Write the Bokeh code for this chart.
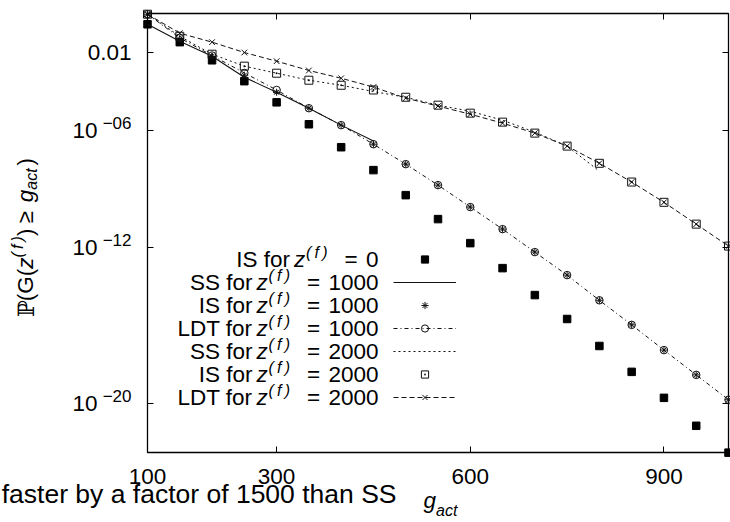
import math
from bokeh.plotting import figure
from bokeh.models import (Range1d, FixedTicker, LinearAxis, LogAxis, Label,
                          Legend, LegendItem)
from bokeh.embed import file_html
from bokeh.resources import INLINE

# ---------------- data ----------------
g_act = [100, 150, 200, 250, 300, 350, 400, 450, 500, 550,
         600, 650, 700, 750, 800, 850, 900, 950, 1000]

is_z0 = [2.8e-1, 3.4e-2, 4.0e-3, 3.4e-4, 2.8e-5, 2.1e-6, 1.4e-7, 9.4e-9, 4.9e-10, 2.9e-11,
         1.7e-12, 8.9e-14, 3.7e-15, 2.2e-16, 9.1e-18, 4.3e-19, 2.0e-20, 7.4e-22, 3.1e-23]

g_ss1000 = [100, 150, 200, 250, 300, 350, 400, 450]
ss_z1000 = [2.8e-1, 3.8e-2, 6.5e-3, 5.4e-4, 9.2e-5, 1.4e-5, 1.9e-6, 2.9e-7]

is_z1000 = [9.2e-1, 4.8e-2, 6.5e-3, 6.9e-4, 9.2e-5, 1.4e-5, 1.9e-6, 2.0e-7, 1.9e-8, 1.6e-9,
            1.2e-10, 8.9e-12, 5.9e-13, 3.9e-14, 2.0e-15, 1.1e-16, 5.6e-18, 3.0e-19, 1.6e-20]

ldt_z1000 = [9.2e-1, 5.6e-2, 7.0e-3, 9.0e-4, 1.2e-4, 1.4e-5, 1.9e-6, 2.0e-7, 1.9e-8, 1.6e-9,
             1.2e-10, 8.9e-12, 5.9e-13, 3.9e-14, 2.0e-15, 1.1e-16, 5.6e-18, 3.0e-19, 1.6e-20]

g_ss2000 = [100, 150, 200, 250, 300, 350, 400, 450, 500, 550, 600, 650, 700, 750, 800]
ss_z2000 = [9.2e-1, 6.8e-2, 8.2e-3, 2.0e-3, 8.7e-4, 3.8e-4, 2.1e-4, 1.0e-4, 5.1e-5, 2.0e-5,
            9.8e-6, 3.4e-6, 8.3e-7, 1.6e-7, 8.3e-9]

is_z2000 = [9.2e-1, 6.8e-2, 8.2e-3, 2.0e-3, 8.7e-4, 3.8e-4, 2.1e-4, 1.2e-4, 5.1e-5, 2.0e-5,
            7.8e-6, 2.7e-6, 7.4e-7, 1.6e-7, 2.1e-8, 2.3e-9, 2.1e-10, 1.6e-11, 1.2e-12]

ldt_z2000 = [9.2e-1, 9.8e-2, 3.4e-2, 1.0e-2, 3.6e-3, 1.2e-3, 4.8e-4, 1.7e-4, 4.6e-5, 1.8e-5,
             6.9e-6, 2.4e-6, 7.4e-7, 1.6e-7, 2.1e-8, 2.3e-9, 2.1e-10, 1.6e-11, 1.2e-12]

x_min, x_max = 100, 1000
y_min, y_max = 10 ** -22.5, 1.0
x_ticks = [100, 300, 600, 900]
x_tick_labels = ["100", "300", "600", "900"]
y_ticks = [1e-2, 1e-6, 1e-12, 1e-20]
y_tick_base = ["0.01", "10", "10", "10"]
y_tick_exp = ["", "\u221206", "\u221212", "\u221220"]

legend_prefix = ["IS for", "SS for", "IS for", "LDT for", "SS for", "IS for", "LDT for"]
legend_value = ["0", "1000", "1000", "1000", "2000", "2000", "2000"]

caption = "faster by a factor of 1500 than SS"

# ---------------- layout helpers (page pixels) ----------------
W, H = 730, 522
FL, FR, FT, FB = 147.0, 728.0, 13.0, 452.0     # plot box edges in page pixels
YL0, YL1 = math.log10(y_min), math.log10(y_max)
XS = (FR - FL) / (x_max - x_min)
YS = (FB - FT) / (YL1 - YL0)


def px2x(px):
    return x_min + (px - FL) / XS


def py2y(py):
    return 10 ** (YL1 - (py - FT) / YS)


AW = {' ': 278, '(': 333, ')': 333, '=': 584, '\u2212': 584, '.': 278, '\u2265': 549,
      '\u2009': 200,
      'A': 667, 'D': 722, 'G': 778, 'I': 278, 'L': 556, 'S': 667, 'T': 611,
      'a': 556, 'c': 500, 'f': 278, 'g': 556, 'o': 556, 'r': 333, 't': 278, 'z': 500,
      '\u2119': 700}


def tw(s, size):
    return sum(AW.get(c, 556) for c in s) * size / 1000.0


FONT = "Liberation Sans"
F = 22.5       # main text size
S = 16         # super/subscript size
F_CAP = 26.5   # caption size

# the frame covers the whole canvas; the plot box is drawn at the data limits
p = figure(width=W, height=H, x_range=Range1d(px2x(0), px2x(W)),
           y_range=Range1d(py2y(H), py2y(0)), y_axis_type="log",
           output_backend="svg", toolbar_location=None,
           min_border_left=0, min_border_right=0, min_border_top=0, min_border_bottom=0)
p.xgrid.visible = False
p.ygrid.visible = False
p.outline_line_color = None
p.background_fill_color = "white"
p.border_fill_color = "white"


def style_axis(ax):
    ax.axis_line_color = None
    ax.major_tick_in = 6
    ax.major_tick_out = 0
    ax.major_tick_line_color = "black"
    ax.major_tick_line_width = 1
    ax.minor_tick_line_color = None
    ax.major_label_text_font_size = "1px"
    ax.major_label_text_alpha = 0
    ax.major_label_standoff = 0


p.xaxis.ticker = FixedTicker(ticks=x_ticks)
p.yaxis.ticker = FixedTicker(ticks=y_ticks)
p.xaxis.fixed_location = y_min
p.yaxis.fixed_location = x_min
style_axis(p.xaxis[0])
style_axis(p.yaxis[0])
top_ax = LinearAxis(ticker=FixedTicker(ticks=x_ticks), fixed_location=y_max)
style_axis(top_ax)
p.add_layout(top_ax, "above")
right_ax = LogAxis(ticker=FixedTicker(ticks=y_ticks), fixed_location=x_max)
style_axis(right_ax)
p.add_layout(right_ax, "right")

# plot box at the data limits
p.quad(left=[x_min], right=[x_max], bottom=[y_min], top=[y_max],
       fill_color=None, line_color="black", line_width=1.3)

# ---------------- series ----------------
C = "#111111"
r_is0 = p.scatter(g_act, is_z0, marker="square", size=7.5, fill_color="black", line_color="black")
r_ss1 = p.line(g_ss1000, ss_z1000, line_color=C, line_width=1.1)
r_is1 = p.scatter(g_act, is_z1000, marker="asterisk", size=7, line_color=C, line_width=1)
r_ldt1_l = p.line(g_act, ldt_z1000, line_color=C, line_width=1, line_dash="4 3 1 3")
r_ldt1_m = p.scatter(g_act, ldt_z1000, marker="circle", size=7.5, fill_color=None, line_color=C, line_width=1)
r_ss2 = p.line(g_ss2000, ss_z2000, line_color=C, line_width=1, line_dash="2 3")
r_is2 = p.scatter(g_act, is_z2000, marker="square_dot", size=8, fill_color=None, line_color=C, line_width=1)
r_ldt2_l = p.line(g_act, ldt_z2000, line_color=C, line_width=1, line_dash="5 3")
r_ldt2_m = p.scatter(g_act, ldt_z2000, marker="x", size=8, line_color=C, line_width=1)

# ---------------- legend (keys) ----------------
ROW0, PITCH, ROWH, GLH = 259.0, 23, 22, 18
items = [LegendItem(label=" ", renderers=[r_is0]),
         LegendItem(label=" ", renderers=[r_ss1]),
         LegendItem(label=" ", renderers=[r_is1]),
         LegendItem(label=" ", renderers=[r_ldt1_l, r_ldt1_m]),
         LegendItem(label=" ", renderers=[r_ss2]),
         LegendItem(label=" ", renderers=[r_is2]),
         LegendItem(label=" ", renderers=[r_ldt2_l, r_ldt2_m])]
leg_bottom = ROW0 - ROWH / 2 + PITCH * 6 + ROWH
leg = Legend(items=items, location=(393, H - leg_bottom), glyph_width=63,
             glyph_height=GLH, label_height=ROWH, spacing=PITCH - ROWH, padding=0, margin=0,
             label_standoff=0, label_text_font_size="2px", border_line_color=None,
             background_fill_alpha=0)
p.add_layout(leg)


def lab(px, py, text, size, align="left", style="normal", angle=0.0, font=FONT):
    # (px, py): page pixel of the anchor; vertical anchor is the text middle
    p.add_layout(Label(x=px2x(px), y=py2y(py), text=text, text_font=font,
                       text_font_size=f"{size}px", text_align=align, text_baseline="middle",
                       text_font_style=style, text_color="black", angle=angle))


# legend texts
LEG_RIGHT = 378
for i, (pre, val) in enumerate(zip(legend_prefix, legend_value)):
    cy = ROW0 + PITCH * i
    lab(LEG_RIGHT, cy, val, F, align="right")
    eq = LEG_RIGHT - tw(val, F) - 15
    lab(eq, cy, "=", F, align="center")
    lab(eq - 45, cy - 7, "(\u2009f\u2009)", S, style="italic")
    lab(eq - 57, cy, "z", F, style="italic")
    lab(eq - 61, cy, pre, F, align="right")

# x tick labels
for t, s in zip(x_ticks, x_tick_labels):
    cx = FL + (t - x_min) * XS
    lab(cx, 475.5, s, F, align="center")

# y tick labels
for t, b, e in zip(y_ticks, y_tick_base, y_tick_exp):
    cy = FT + (YL1 - math.log10(t)) * YS
    if e:
        lab(131, cy - 8, e, 17, align="right")
        lab(97, cy, b, F, align="right")
    else:
        lab(131, cy, b, F, align="right")

# x axis label
lab(423, 500, "g", F, style="italic")
lab(423 + tw("g", F), 510, "act", S, style="italic")

# caption (cut at the left page edge)
lab(396, 493, caption, F_CAP, align="right")

# y axis label, rotated pieces (text middle on x = 25); (text, size, style, shift, font, extra gap)
pieces = [("\u2119", F, "normal", 0, "DejaVu Serif", 0),
          ("(G(", F, "normal", 0, FONT, 0),
          ("z", F, "italic", 0, FONT, 0),
          ("(\u2009f\u2009)", S, "italic", 8, FONT, 0),
          (")", F, "normal", 0, FONT, 5),
          ("\u2265", F, "normal", 0, FONT, 9),
          ("g", F, "italic", 0, FONT, 0),
          ("act", S, "italic", -6, FONT, 3),
          (")", F, "normal", 0, FONT, 0)]
total = sum(tw(t, s) + g for t, s, _, _, _, g in pieces)
ypos = 237 + total / 2
MID_X = 25
for t, s, st, shift, fnt, gap in pieces:
    lab(MID_X - shift, ypos, t, s, style=st, angle=math.pi / 2, font=fnt)
    ypos -= tw(t, s) + gap

open("out.html", "w").write(file_html(p, INLINE))
